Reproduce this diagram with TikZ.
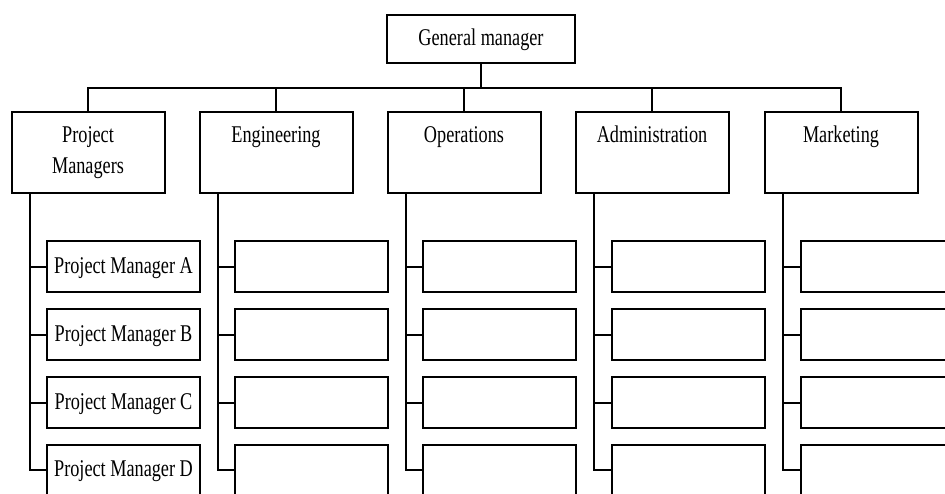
\documentclass[tikz,border=0pt]{standalone}
\usepackage{fontspec}
\setmainfont{Liberation Serif}[FakeStretch=0.76]
\begin{document}
\begin{tikzpicture}[x=1pt,y=-1pt,
  every node/.style={inner sep=0pt,outer sep=0pt},
  box/.style={draw,rectangle,line width=2pt},
  gmbox/.style={box,minimum width=188pt,minimum height=48pt,
    font=\fontsize{24}{31}\selectfont,text height=16.5pt,text depth=3pt},
  headbox/.style={box,minimum width=153pt,minimum height=81pt},
  subbox/.style={box,minimum width=153pt,minimum height=51pt,
    font=\fontsize{24}{31}\selectfont,text height=16.5pt,text depth=3pt},
  headtext/.style={anchor=base,font=\fontsize{24}{31}\selectfont},
  wire/.style={line width=2pt}]
\useasboundingbox (0,0) rectangle (945,494);
\clip (0,0) rectangle (945,494);

% top of the chart
\node[gmbox] (gm) at (481,39) {General manager};
\coordinate (busy) at (0,88);

% department heads
\node[headbox] (d1) at (88,152.5) {};
\node[headbox] (d2) at (276,152.5) {};
\node[headbox] (d3) at (464,152.5) {};
\node[headbox] (d4) at (652,152.5) {};
\node[headbox] (d5) at (841,152.5) {};

\node[headtext] (d1a) at (88,143) {Project};
\node[headtext] (d1b) at (88,174) {Managers};
\node[headtext] (d2a) at (276,143) {Engineering};
\node[headtext] (d3a) at (464,143) {Operations};
\node[headtext] (d4a) at (652,143) {Administration};
\node[headtext] (d5a) at (841,143) {Marketing};

% connectors from the general manager to the departments
\draw[wire] (gm.south) -- (gm.south |- busy);
\draw[wire] (d1.north) -- (d1.north |- busy) -- (d5.north |- busy) -- (d5.north);
\foreach \d in {d2,d3,d4}
  \draw[wire] (\d.north) -- (\d.north |- busy);

% units under each department
\node[subbox] (p1) at (123.5,267) {Project Manager A};
\node[subbox] (p2) at (123.5,334.5) {Project Manager B};
\node[subbox] (p3) at (123.5,402.5) {Project Manager C};
\node[subbox] (p4) at (123.5,470) {Project Manager D};

\foreach \d/\cx in {d2/311.5,d3/499.5,d4/688,d5/877.5}{
  \node[subbox] (\d-1) at (\cx,267) {};
  \node[subbox] (\d-2) at (\cx,334.5) {};
  \node[subbox] (\d-3) at (\cx,402.5) {};
  \node[subbox] (\d-4) at (\cx,470) {};
}

% vertical spines with ticks into the units
\foreach \s in {p1,p2,p3,p4}
  \draw[wire] ([xshift=18pt]d1.south west) |- (\s.west);
\foreach \d in {d2,d3,d4,d5}
  \foreach \r in {1,2,3,4}
    \draw[wire] ([xshift=18pt]\d.south west) |- (\d-\r.west);
\end{tikzpicture}
\end{document}
